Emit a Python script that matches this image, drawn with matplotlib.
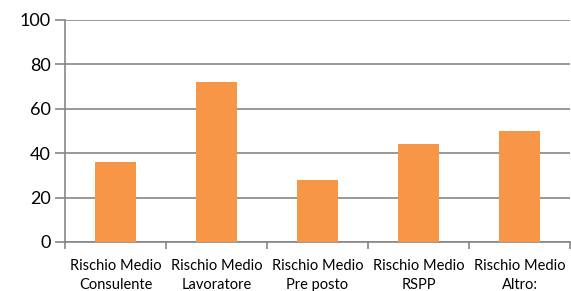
import matplotlib
matplotlib.use("Agg")
import matplotlib.pyplot as plt
import numpy as np

categories = ["Rischio Medio\nConsulente", "Rischio Medio\nLavoratore", "Rischio Medio\nPre posto",
              "Rischio Medio\nRSPP", "Rischio Medio\nAltro:"]
values = [36, 72, 28, 44, 50]
y_ticks = [0, 20, 40, 60, 80, 100]

plt.rcParams["font.family"] = ["Lato", "DejaVu Sans"]

fig = plt.figure(figsize=(5.71, 2.91), dpi=100)
ax = fig.add_axes([65 / 571, 49 / 291, 505 / 571, 222 / 291])

grey = "#868686"
x = np.arange(len(categories))
ax.bar(x, values, width=0.4, color="#F79646", zorder=3)

ax.set_xlim(-0.5, len(categories) - 0.5)
ax.set_ylim(0, 100)
ax.set_yticks(y_ticks)
ax.yaxis.grid(True, color=grey, linewidth=1.2, zorder=0)

# category boundaries as major ticks, labels centred on minor ticks
ax.set_xticks(np.arange(len(categories) + 1) - 0.5)
ax.set_xticklabels([])
ax.set_xticks(x, minor=True)
ax.set_xticklabels(categories, minor=True, fontsize=10.5, linespacing=1.45)
ax.tick_params(axis="x", which="minor", length=0, pad=12)
ax.tick_params(axis="x", which="major", length=5, color=grey, width=1.2)
ax.tick_params(axis="y", length=7, color=grey, width=1.2, labelsize=13, pad=3)

for side in ["top", "right"]:
    ax.spines[side].set_visible(False)
for side in ["left", "bottom"]:
    ax.spines[side].set_color(grey)
    ax.spines[side].set_linewidth(1.2)

fig.savefig("out.png", dpi=100)
